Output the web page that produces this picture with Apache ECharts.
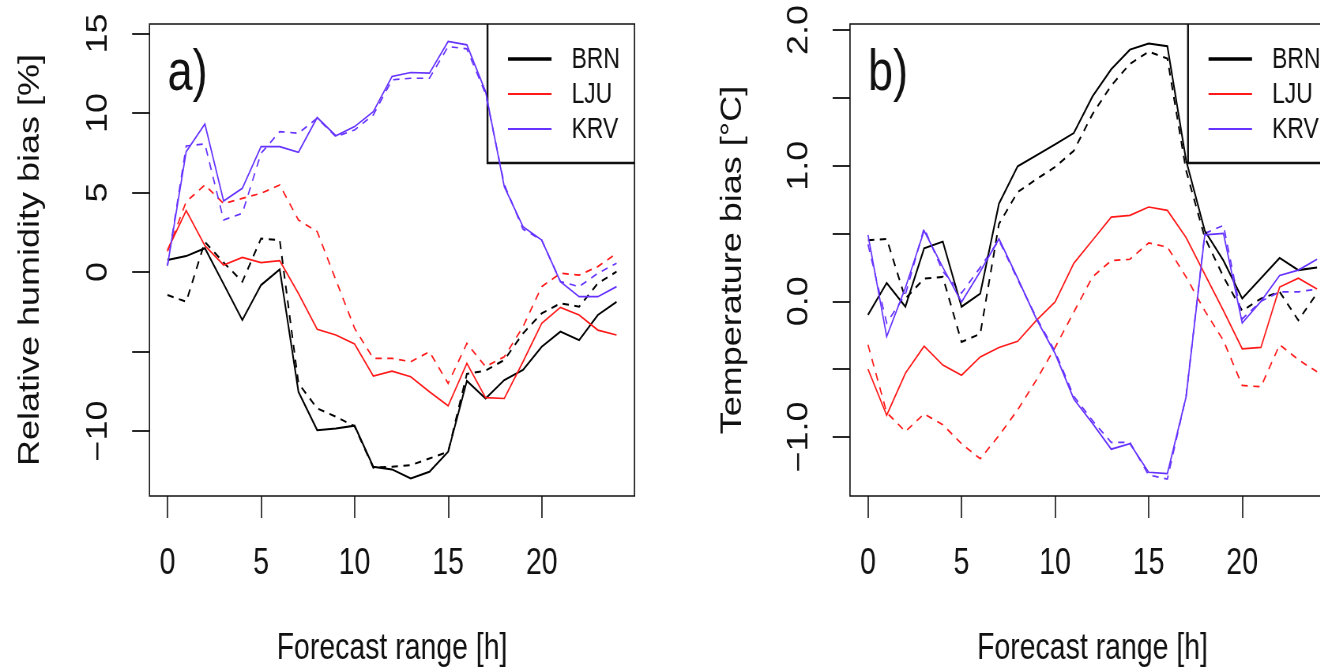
<!DOCTYPE html>
<html>
<head>
<meta charset="utf-8">
<title>Forecast bias by lead time</title>
<script src="https://cdn.jsdelivr.net/npm/echarts@6/dist/echarts.min.js"></script>
<style>
  html, body { margin: 0; padding: 0; background: #fff; overflow: hidden; }
  #wrap { width: 1320px; height: 671px; overflow: hidden; }
  /* the figure is laid out wide and squeezed horizontally, giving its narrow lettering;
     the right panel runs past the visible edge */
  #chart { width: 1730px; height: 671px; transform: scaleX(0.79); transform-origin: 0 0; }
</style>
</head>
<body>
<div id="wrap"><div id="chart"></div></div>
<script>
// Forecast lead time in hours
const hours = [0, 1, 2, 3, 4, 5, 6, 7, 8, 9, 10, 11, 12, 13, 14, 15, 16, 17, 18, 19, 20, 21, 22, 23, 24];
const stations = ['BRN', 'LJU', 'KRV'];

// Relative humidity bias [%], experiment 1 (solid) and experiment 2 (dashed)
const rhBRN1 = [0.75, 1.0, 1.49, -0.75, -3.02, -0.82, 0.17, -7.53, -9.94, -9.83, -9.66, -12.24, -12.41, -12.98, -12.56, -11.3, -6.85, -7.95, -6.79, -6.16, -4.7, -3.75, -4.28, -2.7, -1.87];
const rhBRN2 = [-1.45, -1.87, 1.9, 0.6, -0.61, 2.1, 2.0, -7.0, -8.57, -9.1, -9.7, -12.3, -12.24, -12.14, -11.72, -11.3, -6.4, -6.2, -5.53, -3.86, -2.6, -1.97, -2.18, -0.71, 0.02];
const rhLJU1 = [1.38, 3.86, 1.65, 0.44, 0.92, 0.59, 0.71, -1.35, -3.6, -3.96, -4.53, -6.54, -6.23, -6.58, -7.53, -8.41, -5.74, -7.9, -7.95, -5.64, -3.23, -2.22, -2.7, -3.65, -3.96];
const rhLJU2 = [1.3, 4.42, 5.47, 4.3, 4.63, 4.95, 5.47, 3.27, 2.54, -0.5, -3.54, -5.43, -5.43, -5.64, -5.01, -7.0, -4.49, -5.95, -5.33, -3.44, -0.92, -0.08, -0.19, 0.34, 1.17];
const rhKRV1 = [0.4, 7.57, 9.31, 4.47, 5.26, 7.88, 7.88, 7.53, 9.71, 8.57, 9.14, 10.08, 12.29, 12.54, 12.5, 14.49, 14.28, 11.34, 5.37, 2.85, 2.01, -0.61, -1.55, -1.55, -0.92];
const rhKRV2 = [0.4, 7.92, 8.05, 3.27, 3.69, 7.46, 8.83, 8.72, 9.67, 8.51, 8.93, 9.87, 12.08, 12.18, 12.18, 14.17, 14.03, 11.2, 5.5, 2.7, 2.0, -0.6, -0.92, -0.08, 0.55];

// Temperature bias [°C], experiment 1 (solid) and experiment 2 (dashed)
const tBRN1 = [-0.1, 0.135, -0.04, 0.39, 0.44, -0.04, 0.057, 0.72, 0.995, 1.076, 1.157, 1.24, 1.51, 1.71, 1.855, 1.9, 1.88, 1.04, 0.52, 0.3, 0.02, 0.17, 0.32, 0.23, 0.25];
const tBRN2 = [0.45, 0.46, 0.02, 0.167, 0.18, -0.3, -0.24, 0.57, 0.805, 0.9, 0.99, 1.11, 1.38, 1.59, 1.75, 1.84, 1.79, 0.965, 0.47, 0.18, -0.07, 0.02, 0.07, -0.14, 0.06];
const tLJU1 = [-0.5, -0.84, -0.53, -0.33, -0.47, -0.545, -0.41, -0.34, -0.295, -0.14, -0.005, 0.28, 0.45, 0.62, 0.634, 0.695, 0.67, 0.47, 0.2, -0.07, -0.35, -0.34, 0.105, 0.17, 0.09];
const tLJU2 = [-0.32, -0.82, -0.96, -0.83, -0.91, -1.05, -1.16, -0.99, -0.8, -0.58, -0.34, -0.08, 0.18, 0.3, 0.31, 0.43, 0.4, 0.18, -0.07, -0.29, -0.62, -0.63, -0.32, -0.43, -0.52];
const tKRV1 = [0.49, -0.26, 0.1, 0.52, 0.25, -0.005, 0.22, 0.46, 0.17, -0.13, -0.385, -0.72, -0.9, -1.09, -1.05, -1.26, -1.27, -0.705, 0.49, 0.5, -0.16, 0.0, 0.19, 0.23, 0.31];
const tKRV2 = [0.42, -0.16, 0.05, 0.54, 0.22, 0.06, 0.25, 0.45, 0.16, -0.12, -0.37, -0.7, -0.88, -1.04, -1.04, -1.28, -1.31, -0.7, 0.5, 0.56, -0.13, 0.0, 0.07, 0.07, 0.09];

// Tick positions and labelled ticks
const xTicks = [0, 5, 10, 15, 20];
const rhTicks = [-10, -5, 0, 5, 10, 15];
const rhLabelled = [-10, 0, 5, 10, 15];
const tTicks = [-1.0, -0.5, 0.0, 0.5, 1.0, 1.5, 2.0];
const tLabelled = [-1.0, 0.0, 1.0, 2.0];

const panelTags = ['a)', 'b)'];
const yTitles = ['Relative humidity bias [%]', 'Temperature bias [°C]'];
const xTitle = 'Forecast range [h]';

const SX = 0.79;                    // horizontal squeeze applied to #chart
const ux = v => v / SX;             // page x -> chart x
const FONT = '"Liberation Sans", Arial, Helvetica, sans-serif';
const colors = { BRN: '#000000', LJU: '#ff1a1a', KRV: '#6633ff' };
const widths = { BRN: 2, LJU: 1.7, KRV: 1.7 };

const GRID_TOP = 24, GRID_H = 472;
const GRID_W = ux(485);
const gridLefts = [ux(149.5), ux(850)];

const minus = (v, digits) => {
  const s = digits ? Math.abs(v).toFixed(digits) : String(Math.abs(v));
  return (v < 0 ? '\u2212' : '') + s;
};

function pairs(values) { return hours.map((h, i) => [h, values[i]]); }

const chart = echarts.init(document.getElementById('chart'), null, { renderer: 'canvas' });

const grids = gridLefts.map(l => ({
  left: l, top: GRID_TOP, width: GRID_W, height: GRID_H,
  show: true, borderColor: '#111', borderWidth: 1.6, backgroundColor: 'transparent'
}));

const xAxes = [0, 1].map(i => ({
  gridIndex: i, type: 'value', min: -0.96, max: 24.96,
  axisLine: { show: false, onZero: false }, splitLine: { show: false },
  axisTick: { show: true, length: 22, customValues: xTicks, lineStyle: { color: '#111', width: 1.6 } },
  axisLabel: { customValues: xTicks, margin: 50, fontSize: 36, fontFamily: FONT, color: '#111' }
}));

const yAxes = [
  { min: -14.08, max: 15.59, ticks: rhTicks, labels: rhLabelled, fmt: v => minus(v, 0) },
  { min: -1.435, max: 2.044, ticks: tTicks, labels: tLabelled, fmt: v => minus(v, 1) }
].map((a, i) => ({
  gridIndex: i, type: 'value', min: a.min, max: a.max,
  axisLine: { show: false, onZero: false }, splitLine: { show: false },
  axisTick: { show: true, length: 22, customValues: a.ticks, lineStyle: { color: '#111', width: 1.8 } },
  axisLabel: { customValues: a.labels, rotate: 90, margin: 46, fontSize: 36, fontFamily: FONT, color: '#111', formatter: a.fmt }
}));

const panelData = [
  { BRN: [rhBRN1, rhBRN2], LJU: [rhLJU1, rhLJU2], KRV: [rhKRV1, rhKRV2] },
  { BRN: [tBRN1, tBRN2], LJU: [tLJU1, tLJU2], KRV: [tKRV1, tKRV2] }
];

const series = [];
panelData.forEach((pd, p) => {
  stations.forEach(st => {
    [0, 1].forEach(run => {
      series.push({
        name: st + (run ? ' (2)' : ''),
        type: 'line', xAxisIndex: p, yAxisIndex: p,
        data: pairs(pd[st][run]),
        showSymbol: false, symbol: 'none', silent: true, animation: false,
        lineStyle: { color: colors[st], width: widths[st], type: run ? [8, 7] : 'solid', cap: 'butt', join: 'miter' },
        z: run ? 2 : 3
      });
    });
  });
});

// Panel tags, axis titles and legend boxes
const graphics = [];
const legendLefts = [ux(487.5), ux(1188)];
const yTitleX = [ux(31), ux(733)];
gridLefts.forEach((gl, p) => {
  graphics.push({
    type: 'text', x: gl + ux(18), y: 74,
    style: { text: panelTags[p], font: '57px ' + FONT, fill: '#111', textVerticalAlign: 'middle' }
  });
  graphics.push({
    type: 'text', x: yTitleX[p], y: 260, rotation: Math.PI / 2,
    style: { text: yTitles[p], font: '36px ' + FONT, fill: '#111', textAlign: 'center', textVerticalAlign: 'middle' }
  });
  graphics.push({
    type: 'text', x: gl + GRID_W / 2, y: 649,
    style: { text: xTitle, font: '36px ' + FONT, fill: '#111', textAlign: 'center', textVerticalAlign: 'middle' }
  });
  const lx = legendLefts[p];
  graphics.push({
    type: 'polyline',
    shape: { points: [[lx, GRID_TOP], [lx, 163], [gl + GRID_W, 163]] },
    style: { stroke: '#111', lineWidth: 2.4, fill: null }
  });
  stations.forEach((st, k) => {
    const y = 59 + k * 35;
    graphics.push({
      type: 'line', shape: { x1: lx + ux(20.5), y1: y, x2: lx + ux(64), y2: y },
      style: { stroke: colors[st], lineWidth: st === 'BRN' ? 3.4 : 1.9 }
    });
    graphics.push({
      type: 'text', x: lx + ux(84), y: y + 1,
      style: { text: st, font: '29px ' + FONT, fill: '#111', textVerticalAlign: 'middle' }
    });
  });
});

chart.setOption({
  backgroundColor: '#ffffff',
  animation: false,
  grid: grids,
  xAxis: xAxes,
  yAxis: yAxes,
  series: series,
  graphic: graphics
});
</script>
</body>
</html>
